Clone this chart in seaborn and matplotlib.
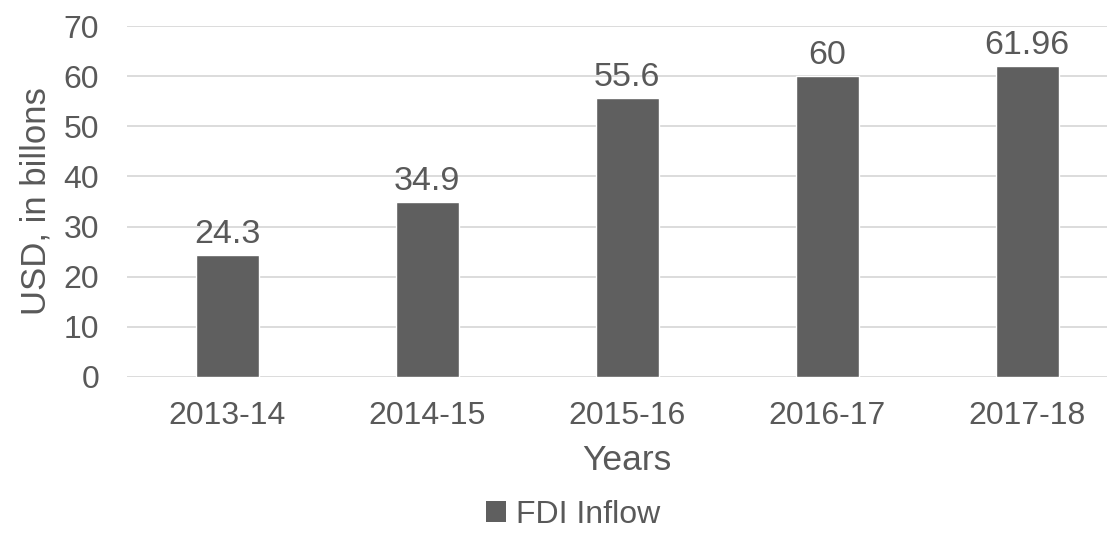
import pandas as pd
import matplotlib
matplotlib.use("Agg")
import matplotlib.pyplot as plt
import seaborn as sns
from matplotlib.patches import Patch

years = ["2013-14", "2014-15", "2015-16", "2016-17", "2017-18"]
fdi_inflow = [24.3, 34.9, 55.6, 60, 61.96]
bar_labels = ["24.3", "34.9", "55.6", "60", "61.96"]

df = pd.DataFrame({"Years": years, "FDI Inflow": fdi_inflow})

sns.set_theme(style="white")
plt.rcParams['font.family'] = ['Liberation Sans', 'DejaVu Sans']

bar_color = "#5f5f5f"
text_color = "#595959"

fig = plt.figure(figsize=(11.07, 5.33), dpi=100)
# axes runs a bit past the right edge, like the cropped original
ax = fig.add_axes([127 / 1107, 1 - 377 / 533, 1000 / 1107, 351 / 533])

sns.barplot(data=df, x="Years", y="FDI Inflow", color=bar_color,
            width=0.315, saturation=1, ax=ax)

for patch, lab in zip(ax.patches, bar_labels):
    ax.text(patch.get_x() + patch.get_width() / 2, patch.get_height() + 1.0, lab,
            ha="center", va="bottom", fontsize=24.5, color=text_color)

ax.set_ylim(0, 70)
ax.set_xlim(-0.5, 4.5)
ax.set_yticks(range(0, 71, 10))
ax.yaxis.grid(True, color="#d9d9d9", linewidth=1.3)
ax.set_axisbelow(True)
for s in ax.spines.values():
    s.set_visible(False)
ax.tick_params(axis="both", length=0, labelsize=23, labelcolor=text_color)
ax.tick_params(axis="y", pad=20)
ax.tick_params(axis="x", pad=17)

ax.set_xlabel("Years", fontsize=25.5, color=text_color, labelpad=10)
ax.set_ylabel("USD, in billons", fontsize=25, color=text_color, labelpad=8)

handle = Patch(facecolor=bar_color, edgecolor="none", label="FDI Inflow")
fig.legend(handles=[handle], loc="center", bbox_to_anchor=(573 / 1107, 1 - 515 / 533),
           frameon=False, fontsize=23, labelcolor=text_color,
           handlelength=0.65, handleheight=0.65, handletextpad=0.3)

fig.savefig("out.png", dpi=100)
